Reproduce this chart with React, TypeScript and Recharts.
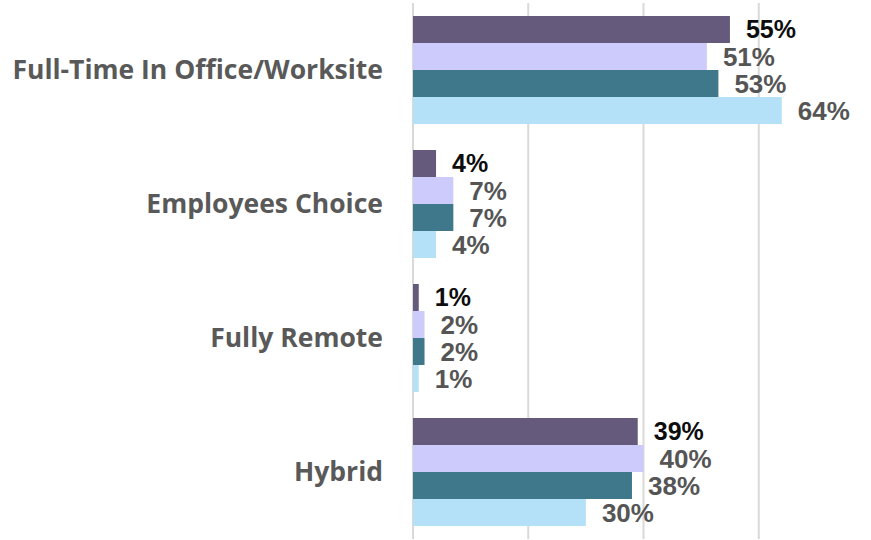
import React from "react";
import { BarChart, Bar, XAxis, YAxis, CartesianGrid, LabelList } from "recharts";

const categories = ["Full-Time In Office/Worksite", "Employees Choice", "Fully Remote", "Hybrid"];
const seriesA = [55, 4, 1, 39];
const seriesB = [51, 7, 2, 40];
const seriesC = [53, 7, 2, 38];
const seriesD = [64, 4, 1, 30];
const xTicks = [0, 20, 40, 60, 80];

const seriesKeys = ["a", "b", "c", "d"];
const colors = ["#655A7C", "#CCCBFB", "#3F788A", "#B5E1F8"];
const labelColors = ["#0d0d0d", "#555555", "#555555", "#555555"];
const labelSizes = [25, 26, 26, 26];

const data = categories.map((name, i) => ({
  name,
  a: seriesA[i],
  b: seriesB[i],
  c: seriesC[i],
  d: seriesD[i],
}));

const fmt = (v: any) => `${v}%`;

export default function App() {
  return (
    <div style={{ position: "absolute", left: 0, top: 0, width: 871, height: 540, overflow: "hidden", background: "#fff" }}>
      <BarChart
        width={880}
        height={540}
        data={data}
        layout="vertical"
        margin={{ top: 3, right: 6, bottom: 1, left: 0 }}
        barGap={0}
        barCategoryGap={13}
      >
        <CartesianGrid horizontal={false} stroke="#d9d9d9" strokeWidth={2} />
        <XAxis type="number" domain={[0, 80]} ticks={xTicks} hide />
        <YAxis
          type="category"
          dataKey="name"
          width={413}
          axisLine={false}
          tickLine={false}
          tickMargin={24}
          tick={{ fill: "#595959", fontSize: 26.5, fontWeight: 700, fontFamily: "'Open Sans', sans-serif" }}
        />
        {seriesKeys.map((k, i) => (
          <Bar key={k} dataKey={k} fill={colors[i]} isAnimationActive={false}>
            <LabelList
              dataKey={k}
              position="right"
              offset={16}
              formatter={fmt}
              fill={labelColors[i]}
              style={{ fontSize: labelSizes[i], fontWeight: 700, fontFamily: "'Liberation Sans', Arial, sans-serif" }}
            />
          </Bar>
        ))}
      </BarChart>
    </div>
  );
}
